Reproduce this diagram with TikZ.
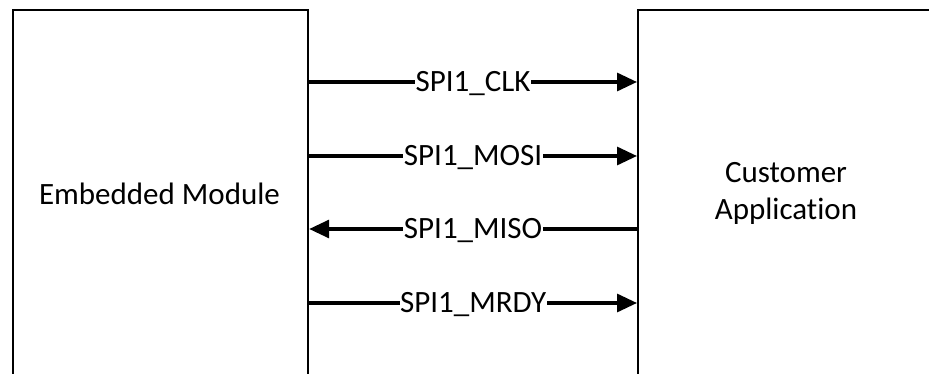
\documentclass[tikz,border=0pt]{standalone}
\usepackage{fontspec}
\setmainfont{Carlito}[RawFeature={-liga;-clig;-dlig}]
\usetikzlibrary{arrows.meta}
\begin{document}
\begin{tikzpicture}[x=1pt,y=1pt,
  box/.style={draw=black, line width=2.2pt, rectangle, minimum width=#1, minimum height=430pt, anchor=north west, inner sep=0pt},
  boxtext/.style={font=\fontsize{31}{37}\selectfont, align=center, inner sep=0pt},
  sig/.style={line width=3.2pt, -{Triangle[length=20pt,width=18pt]}},
  lbl/.style={font=\fontsize{31}{35}\selectfont, fill=white, inner xsep=0.5pt, inner ysep=1pt, text height=19.5pt, text depth=0pt, pos=0.5}
]
\useasboundingbox (0,0) rectangle (929,-374);
\fill[white] (0,0) rectangle (929,-374);
\node[box=295pt] (lbox) at (12,-9) {};
\node[box=330pt] (rbox) at (637,-9) {};
\node[boxtext] (ltext) at (159.5,-194) {Embedded Module};
\node[boxtext] (rtext) at (786,-193) {Customer\\Application};
\coordinate (y1) at (0,-82);
\coordinate (y2) at (0,-156);
\coordinate (y3) at (0,-229);
\coordinate (y4) at (0,-303);
\draw[sig] (lbox.east |- y1) -- node[lbl] (l1) {SPI1\_CLK} (rbox.west |- y1);
\draw[sig] (lbox.east |- y2) -- node[lbl] (l2) {SPI1\_MOSI} (rbox.west |- y2);
\draw[sig] (rbox.west |- y3) -- node[lbl] (l3) {SPI1\_MISO} (lbox.east |- y3);
\draw[sig] (lbox.east |- y4) -- node[lbl] (l4) {SPI1\_MRDY} (rbox.west |- y4);
\end{tikzpicture}
\end{document}
